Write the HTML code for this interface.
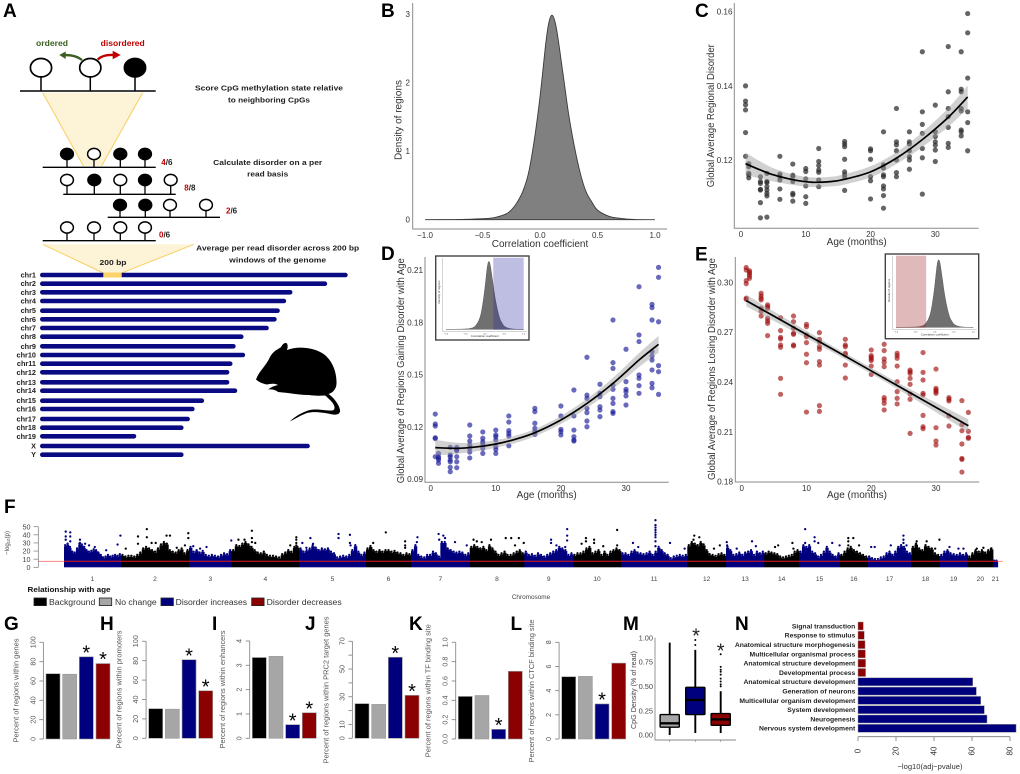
<!DOCTYPE html>
<html lang="en">
<head>
<meta charset="utf-8">
<title>Regional methylation disorder with age</title>
<style>
html,body{margin:0;padding:0;background:#fff;width:1020px;height:774px;overflow:hidden}
svg{display:block;font-family:"Liberation Sans",sans-serif;filter:blur(0.35px)}
.letter{font-size:19px;font-weight:700;fill:#000}
.a-note{font-size:7.6px;font-weight:700;fill:#222;text-anchor:middle}
</style>
</head>
<body>
<svg id="figure" xmlns="http://www.w3.org/2000/svg" width="1020" height="774" viewBox="0 0 1020 774">
  <rect x="0" y="0" width="1020" height="774" fill="#fff"/>
  <g id="panel-a">
    <polygon points="42.7,92.7 142.7,92.7 101.7,165.7 83.3,165.7" fill="#fdf3d6"/>
    <path d="M42.7 92.7L83.3 165.7M142.7 92.7L101.7 165.7" stroke="#f9cf63" stroke-width="1" fill="none"/>
    <polygon points="42.7,244.3 194,244.3 121.7,273 103.3,273" fill="#fdf3d6"/>
    <path d="M42.7 244.3L103.3 273M194 244.3L121.7 273" stroke="#f9cf63" stroke-width="1" fill="none"/>
    <text x="36" y="46" font-size="8" font-weight="700" fill="#3a5f1e" textLength="32" lengthAdjust="spacingAndGlyphs">ordered</text>
    <text x="100.7" y="46" font-size="8" font-weight="700" fill="#c00000" textLength="44" lengthAdjust="spacingAndGlyphs">disordered</text>
    <path d="M82 60Q76 55 65 55" stroke="#3a5f1e" stroke-width="2.4" fill="none"/>
    <polygon points="59.3,55 65.7,51.5 65.7,59" fill="#3a5f1e"/>
    <path d="M97.7 59.5Q103 54.5 113 55" stroke="#c00000" stroke-width="2.4" fill="none"/>
    <polygon points="120.7,55 112.7,50.7 112.7,59.3" fill="#c00000"/>
    <text class="a-note" x="269" y="90.7" textLength="148" lengthAdjust="spacingAndGlyphs">Score CpG methylation state relative</text>
    <text class="a-note" x="269" y="102.3" textLength="82" lengthAdjust="spacingAndGlyphs">to neighboring CpGs</text>
    <text class="a-note" x="267.7" y="165" textLength="109" lengthAdjust="spacingAndGlyphs">Calculate disorder on a per</text>
    <text class="a-note" x="267.7" y="176.7" textLength="41" lengthAdjust="spacingAndGlyphs">read basis</text>
    <text class="a-note" x="277.7" y="250.7" textLength="163" lengthAdjust="spacingAndGlyphs">Average per read disorder across 200 bp</text>
    <text class="a-note" x="277.7" y="262.3" textLength="97" lengthAdjust="spacingAndGlyphs">windows of the genome</text>
    <text class="a-note" x="113" y="265" textLength="27" lengthAdjust="spacingAndGlyphs">200 bp</text>
    <path d="M256 379.5C259 371 266 366 270 357C274 350 279 349 281 347C283 343 287 341 287.5 345C288 348 287 349 287 350C297 346 312 347 322 353C332 359 337 372 336.5 384C336 390 332 393 328.5 394C333 397 339 404 340 410C340.5 414 337 415 333 414.5C325 413 315 411 307 413C301 415 295 419 290 421.5C294 417 301 413 308 410.5C316 408 326 411 332 410.5C336 410 335 405 331 401C328 398 326 396 325 395.5C318 396 312 395.5 309 395C302 395 295 394 288 393L278 392C276 390 272 389 268 389.5C271 387 275 385.5 278 385C274 383 270 384 267 384.5C263 384 258 381.5 256 379.5Z" fill="#000"/>
  </g>
  <text class="letter" x="3" y="17">A</text>
  <text class="letter" x="381" y="17">B</text>
  <text class="letter" x="695" y="17">C</text>
  <text class="letter" x="381" y="260">D</text>
  <text class="letter" x="695" y="260.5">E</text>
  <text class="letter" x="4" y="513">F</text>
  <text class="letter" x="4" y="630">G</text>
  <text class="letter" x="100" y="630">H</text>
  <text class="letter" x="212" y="630">I</text>
  <text class="letter" x="305" y="630">J</text>
  <text class="letter" x="409" y="630">K</text>
  <text class="letter" x="510.5" y="630">L</text>
  <text class="letter" x="623" y="630">M</text>
  <text class="letter" x="735" y="630">N</text>
</svg>
<script>
/* ---------- Panel A data ---------- */
const chromNames = ['chr1','chr2','chr3','chr4','chr5','chr6','chr7','chr8','chr9','chr10','chr11','chr12','chr13','chr14','chr15','chr16','chr17','chr18','chr19','X','Y'];
const chromLengths = [195,182,160,156,152,150,145,129,124,130,122,120,120,125,104,98,95,91,61,171,91];
const readDisorderLabels = [['4','/6'],['8','/8'],['2','/6'],['0','/6']];
const readMethylated = [[1,0,1,1],[0,1,0,1,0],[1,1,0,0],[0,0,0,0]];

/* ---------- Panel B data (density) ---------- */
const densityX = [-1,-0.8,-0.65,-0.5,-0.4,-0.3,-0.25,-0.2,-0.15,-0.1,-0.05,0,0.05,0.075,0.1,0.125,0.15,0.2,0.25,0.3,0.35,0.4,0.45,0.5,0.6,0.7,0.8,1];
const densityY = [0,0.002,0.006,0.015,0.03,0.08,0.14,0.25,0.41,0.68,1.16,1.79,2.57,2.86,2.98,2.92,2.72,2.13,1.53,1.06,0.68,0.41,0.26,0.14,0.05,0.02,0.005,0];
const densityXTicks = [-1,-0.5,0,0.5,1];
const densityXTickLabels = ['\u22121.0','\u22120.5','0.0','0.5','1.0'];
const densityYTicks = [0,1,2,3];

/* ---------- Shared scatter data ---------- */
const ages = [0.7,1.2,3,4,6,8,10,12,16,20,22,24,26,28,30,32,34,35];
const ageTicks = [0,10,20,30];

/* ---------- Panel C data ---------- */
const cValues = [
 [.14,.1359,.1349,.1335,.1274,.121],
 [.119,.1182,.1164,.116,.1152],
 [.1155,.1142,.1137,.1121,.1119,.1085,.1044],
 [.1164,.1142,.1139,.1128,.1119,.111,.1103,.1046],
 [.121,.1162,.1155,.1146,.1122,.1094],
 [.1189,.1159,.1155,.1142,.111,.1106,.1089],
 [.1177,.1169,.1149,.113,.1101,.1083],
 [.1231,.1196,.1185,.1173,.1167,.1146,.1128],
 [.125,.1243,.1236,.1202,.1168,.116,.1153,.1118],
 [.123,.1225,.1202,.1155,.1144,.1095],
 [.1276,.1187,.1178,.116,.1155,.113,.1122,.1104,.107],
 [.1339,.1249,.1241,.1225,.12,.1166,.1155],
 [.1276,.1249,.1243,.1225,.1209,.12,.1175],
 [.1492,.133,.1296,.1272,.1231,.1206,.1108],
 [.1348,.1276,.1263,.1249,.124,.1227,.1196],
 [.1506,.1384,.1339,.1317,.1288,.1245,.1234],
 [.1492,.1391,.1384,.1339,.1332,.1281,.1276,.1265],
 [.1595,.1543,.1421,.133,.1301,.1225]];
const cFitAges = [0.7,3,5,8,11,14,16,20,24,28,32,35];
const cFitValues = [.119,.1173,.116,.1147,.114,.1142,.1148,.1168,.1205,.1255,.1315,.137];
const cFitBand = [.003,.0023,.0018,.0014,.0013,.0013,.0014,.0015,.0016,.002,.0025,.0031];
const cYTicks = [.12,.14,.16];
const cYTickLabels = ['0.12','0.14','0.16'];

/* ---------- Panel D data ---------- */
const dValues = [
 [.1273,.1216,.1204,.1137,.1132,.1028],
 [.1047,.1028,.1019,.1009,.099],
 [.1082,.1038,.1028,.1009,.0999,.0967,.0942],
 [.1082,.1067,.1063,.1028,.0999,.0965],
 [.121,.1147,.1118,.1095,.1076,.1055,.1021],
 [.117,.1134,.1114,.1101,.1076,.1047],
 [.1181,.1153,.1143,.1124,.1086,.107,.1047],
 [.1262,.1227,.1178,.1162,.1147,.1091],
 [.1306,.1287,.122,.1191,.1172,.1156],
 [.1319,.1262,.1185,.1172,.1153],
 [.1411,.1262,.1181,.1143,.1124,.1118],
 [.1599,.1382,.1363,.1306,.1281,.1233,.12],
 [.1444,.1392,.1373,.1315,.1296,.1258],
 [.1813,.1568,.1535,.144,.1415,.1363,.1334,.1287,.1277],
 [.1645,.1459,.1415,.1401,.1377,.1325],
 [.2004,.1727,.1689,.1497,.1478,.1436,.1392],
 [.1903,.1884,.1813,.1631,.1606,.1583,.1526,.1449,.1424],
 [.2115,.2058,.1803,.1551,.1516,.1386]];
const dFitAges = [0.7,4,7,10,13,16,20,24,28,32,35];
const dFitValues = [.108,.1076,.1084,.1101,.1128,.1166,.1239,.1334,.1449,.1583,.1673];
const dFitBand = [.0045,.0032,.0025,.0022,.0021,.0021,.0023,.0027,.0032,.004,.0048];
const dYTicks = [.09,.12,.15,.18,.21];
const dYTickLabels = ['0.09','0.12','0.15','0.18','0.21'];

/* ---------- Panel E data ---------- */
const eValues = [
 [.3089,.3074,.301,.2992,.2904,.2898],
 [.307,.306,.305,.3038,.3024],
 [.2934,.2918,.2904,.2894,.2844,.2824,.2797],
 [.2864,.2854,.2844,.2783,.2767,.2753,.2679],
 [.2787,.2709,.2669,.2659,.2623,.2609,.2422,.2326],
 [.2797,.2763,.2723,.2693,.2687,.2623,.2617],
 [.2747,.2733,.2683,.2673,.2637,.2567,.2516,.2219],
 [.2697,.2657,.2643,.2613,.2597,.2523,.2502,.2258,.2223],
 [.2657,.2623,.2613,.2573,.2563,.2502,.2424],
 [.2593,.2559,.2549,.2539,.2529,.2496,.2446],
 [.2627,.2589,.2539,.2519,.2492,.2306,.2292,.2272,.2232],
 [.2573,.2559,.2543,.2496,.2402,.2342,.2302,.2268],
 [.2472,.2462,.2452,.2422,.2386,.2328,.2296,.2091],
 [.2577,.2458,.2412,.2332,.2322,.2199,.2131,.2119],
 [.2478,.2362,.2352,.2342,.2332,.2125,.2045,.2021],
 [.2306,.2296,.2286,.2197,.2135],
 [.2288,.2143,.2107,.2027,.194,.1934,.1858],
 [.2217,.2103,.2067,.2061]];
const eFitAges = [0.7,10,18,26,35];
const eFitValues = [.289,.2686,.2511,.2335,.2137];
const eFitBand = [.0035,.0022,.0018,.0022,.0038];
const eYTicks = [.18,.21,.24,.27,.3];
const eYTickLabels = ['0.18','0.21','0.24','0.27','0.30'];

/* ---------- Panel F data ---------- */
const manhattanChromLabels = ['1','2','3','4','5','6','7','8','9','10','11','12','13','14','15','16','17','18','19','20','21'];
const manhattanChromLengths = [57,68,42.7,67.3,67,45,58.7,54.6,48.7,48,66.3,38.7,38.3,34.7,41,27.7,43.6,28.4,28,25.3,4.7];
const manhattanEnvelopes = [
 [26,28,24,18,17,22,28,27,24,20,18,19,21,20,17,14,11,12,14,12,13,14,13,15],
 [14,12,13,13,12,14,17,22,24,22,20,18,22,27,30,28,20,18,17,20,22,16,20],
 [24,18,20,17,19,14,13,14,13,12,14,16,15,20],
 [20,26,25,28,30,27,24,20,17,16,18,14,13,13,12,11,15,17,20,18,24,24],
 [22,18,20,22,26,23,20,22,21,22,18,16,11,12,13,12,14,20,26,18,14,17],
 [22,25,20,18,20,18,20,20,18,19,17,16,14,16,15],
 [20,26,14,12,11,14,14,18,16,12,30,30,22,20,18,17,18,17,14,16],
 [24,26,24,22,24,20,26,22,18,14,16,18,14,14,16,18,20,16],
 [18,14,15,13,16,14,12,14,16,18,20,24,22,20,14,16],
 [14,16,16,18,22,24,16,18,20,14,18,14,18,20,22,20],
 [16,16,14,18,20,17,16,15,16,18,14,18,24,20,16,14,10,12,13,14,13,14],
 [26,30,28,26,30,27,20,15,14,13,15,16,14],
 [24,20,14,15,17,14,17,18,20,14,18,16,18],
 [16,18,17,16,15,12,11,12,13,14,18,20],
 [18,26,24,26,18,16,12,14,18,24,18,14,12,16],
 [14,18,22,24,20,18,16,14,12],
 [12,10,9,9,11,12,16,18,14,18,24,26,24,18,16],
 [24,28,22,20,26,24,22,16,14],
 [14,18,20,16,15,14,16,14,16],
 [12,16,20,18,20,17,20,22],
 [7,7]];
const manhattanPeakChrom = [0,0,0,0,0,0,0,0,0,0,0,0,0,0,1,1,1,1,1,1,1,1,1,1,1,1,1,2,2,2,2,3,3,3,3,3,3,3,3,3,3,3,3,4,4,4,4,4,4,4,4,4,5,5,5,5,5,6,6,6,6,6,6,6,6,7,7,7,7,7,7,7,7,7,8,8,8,8,8,8,8,9,9,9,9,9,9,9,9,10,10,10,10,10,10,10,10,10,10,10,10,10,11,11,11,11,11,12,12,12,12,12,13,13,13,13,14,14,14,14,14,14,14,15,15,15,15,15,16,16,16,16,16,16,16,17,17,17,17,17,18,18,18,19,19,19];
const manhattanPeakPos = [.03,.03,.11,.11,.03,.11,.28,.28,.37,.44,.54,.74,.94,.99,.07,.25,.25,.38,.38,.67,.72,.51,.45,.99,.99,.82,.94,.10,.41,.26,.99,.10,.19,.30,.30,.30,.35,.96,.96,.96,.96,.96,.87,.05,.17,.11,.59,.59,.76,.76,.77,.21,.44,.16,.87,.87,.87,.11,.10,.47,.55,.58,.48,.75,.95,.07,.13,.22,.39,.66,.76,.90,.83,.99,.55,.55,.88,.88,.88,.66,.84,.92,.27,.27,.44,.44,.18,.63,.92,.52,.52,.52,.52,.52,.52,.52,.52,.52,.74,.18,.26,.96,.18,.31,.16,.84,.69,.02,.03,.68,.78,.28,.40,.81,.84,.31,.15,.38,.38,.47,.81,.99,.15,.30,.48,.30,.30,.69,.82,.82,.82,.89,.53,.08,.16,.99,.19,.54,.84,.16,.35,.67,.85,.92,.62,.36];
const manhattanPeakVal = [44,38,43,38,34,32,34,30,29,27,25,21,28,39,23,38,29,47,37,39,39,30,30,42,36,24,27,26,25,23,33,34,34,45,36,31,30,37,34,30,27,24,27,30,36,24,41,36,40,30,27,29,43,30,32,27,24,37,31,41,39,36,34,31,27,34,32,31,34,36,36,36,27,30,34,30,47,39,33,27,25,46,36,32,34,30,29,26,27,58,52,49,46,43,40,37,32,26,30,30,25,23,39,37,34,27,23,31,27,32,26,23,27,30,23,25,47,37,32,30,30,27,30,36,36,32,27,27,39,34,30,27,27,25,25,34,32,32,23,27,25,23,23,23,24,23];
const manhattanYTicks = [0,10,20,30,40,50];
const manhattanThreshold = [7.3];
const legendLabels = ['Background','No change','Disorder increases','Disorder decreases'];

/* ---------- Panels G-L data ---------- */
const barColours = ['#000000','#a6a6a6','#00007f','#8b0000'];
const gValues = [67.5,67,85,78];
const gStars = [0,0,1,1];
const gTicks = [0,20,40,60,80,100];
const hValues = [30.5,30,81,49];
const hStars = [0,0,1,1];
const hTicks = [0,20,40,60,80,100];
const iValues = [3.32,3.37,.56,1.05];
const iStars = [0,0,1,1];
const iTicks = [0,1,2,3,4];
const jValues = [25,24.5,58.5,31];
const jStars = [0,0,1,1];
const jTicks = [0,10,20,30,40,50,60,70];
const jTickLabels = ['0','10','','30','','50','','70'];
const kValues = [.44,.45,.1,.7];
const kStars = [0,0,1,0];
const kTicks = [0,.2,.4,.6,.8,1];
const kTickLabels = ['0.0','0.2','0.4','0.6','0.8','1.0'];
const lValues = [5.15,5.18,2.9,6.28];
const lStars = [0,0,1,0];
const lTicks = [0,2,4,6,8];

/* ---------- Panel M data ---------- */
const boxFill = ['#a6a6a6','#00007f','#8b0000'];
const boxQ1 = [.08,.21,.1];
const boxMedian = [.12,.36,.16];
const boxQ3 = [.21,.49,.22];
const boxWhiskerLow = [0,.02,.02];
const boxWhiskerHigh = [.95,.875,.45];
const boxOutliers = [[],[.925,.976],[.5,.52,.55,.58,.62,.65,.67,.7,.83]];
const boxYTicks = [0,.25,.5,.75,1];
const boxYTickLabels = ['0.00','0.25','0.50','0.75','1.00'];

/* ---------- Panel N data ---------- */
const goTerms = ['Signal transduction','Response to stimulus','Anatomical structure morphogenesis','Multicellular organismal process','Anatomical structure development','Developmental process','Anatomical structure development','Generation of neurons','Multicellular organism development','System development','Neurogenesis','Nervous system development'];
const goValues = [2.8,3.3,3.7,3.9,4,4,60.4,62.3,64.6,66.5,67.9,83.2];
const goDirections = ['down','down','down','down','down','down','up','up','up','up','up','up'];
const goTicks = [0,20,40,60,80];

/* ---------- Helpers ---------- */
const NS = 'http://www.w3.org/2000/svg';
const root = document.getElementById('figure');
const INK = '#333333';
const AXIS = '#8a8a8a';

function make(parent, tagName, attrs, text) {
  const node = document.createElementNS(NS, tagName);
  for (const key in attrs) node.setAttribute(key, attrs[key]);
  if (text !== undefined) node.textContent = text;
  parent.appendChild(node);
  return node;
}
function tag(node, name, interactable) {
  
  
  return node;
}
function group(parent, name) {
  return tag(make(parent, 'g', {}), name);
}
function linear(d0, d1, r0, r1) {
  return v => r0 + (v - d0) * (r1 - r0) / (d1 - d0);
}
function line(parent, x1, y1, x2, y2, stroke, width, name) {
  return tag(make(parent, 'line', {x1, y1, x2, y2, stroke, 'stroke-width': width}), name);
}
function label(parent, x, y, str, style, name) {
  return tag(make(parent, 'text', Object.assign({x, y}, style), str), name);
}
function rotatedLabel(parent, x, y, str, style, name) {
  const attrs = Object.assign({transform: 'rotate(-90 ' + x + ' ' + y + ')', 'text-anchor': 'middle'}, style);
  return label(parent, x, y, str, attrs, name);
}
/* Catmull-Rom curve through the given screen points, without the initial move */
function curve(pts) {
  let d = '';
  for (let i = 0; i < pts.length - 1; i++) {
    const p0 = pts[Math.max(0, i - 1)], p1 = pts[i], p2 = pts[i + 1], p3 = pts[Math.min(pts.length - 1, i + 2)];
    const c1x = p1[0] + (p2[0] - p0[0]) / 6, c1y = p1[1] + (p2[1] - p0[1]) / 6;
    const c2x = p2[0] - (p3[0] - p1[0]) / 6, c2y = p2[1] - (p3[1] - p1[1]) / 6;
    d += 'C' + c1x.toFixed(2) + ' ' + c1y.toFixed(2) + ' ' + c2x.toFixed(2) + ' ' + c2y.toFixed(2) + ' ' + p2[0].toFixed(2) + ' ' + p2[1].toFixed(2);
  }
  return d;
}

/* ---------- Panel A ---------- */
function drawReads() {
  const g = group(document.getElementById('panel-a'), 'bisulfite-reads');
  const top = group(g, 'reference-read');
  line(top, 20, 91, 155.7, 91, '#000', 1.6, 'read-line');
  [[41, 0], [90.3, 0], [135, 1]].forEach(function (p, i) {
    line(top, p[0], 72, p[0], 91, '#000', 1.5, 'cpg-stem');
    tag(make(top, 'ellipse', {cx: p[0], cy: 67.7, rx: 10.6, ry: 9.2, fill: p[1] ? '#000' : '#fff', stroke: '#000', 'stroke-width': 1.7}), 'cpg-site-' + i);
  });
  const rows = [
    {y: 167.3, x0: 42.7, x1: 155.7, cy: 154, xs: [67, 94, 120.3, 145], lx: 161.3, ly: 165},
    {y: 194.3, x0: 63.3, x1: 175.7, cy: 180, xs: [67, 94.3, 120.3, 145, 170.7], lx: 184.3, ly: 190.7},
    {y: 217.3, x0: 107.7, x1: 220, cy: 205, xs: [120, 145.3, 170, 206], lx: 226, ly: 213.3},
    {y: 240.7, x0: 42.7, x1: 155.7, cy: 227.5, xs: [67, 94, 120.3, 145], lx: 159, ly: 237.3}
  ];
  rows.forEach(function (row, r) {
    const rg = group(g, 'read-' + (r + 1));
    line(rg, row.x0, row.y, row.x1, row.y, '#000', 1.4, 'read-line');
    row.xs.forEach(function (x, i) {
      line(rg, x, row.cy, x, row.y, '#000', 1.3, 'cpg-stem');
      tag(make(rg, 'ellipse', {cx: x, cy: row.cy, rx: 6.4, ry: 5.6, fill: readMethylated[r][i] ? '#000' : '#fff', stroke: '#000', 'stroke-width': 1.5}), 'cpg-site');
    });
    const t = tag(make(rg, 'text', {x: row.lx, y: row.ly, 'font-size': 8, 'font-weight': 700, fill: '#222'}), 'read-disorder-score');
    const a = make(t, 'tspan', {fill: '#c00000'}, readDisorderLabels[r][0]);
    tag(a, 'disordered-count');
    const b = make(t, 'tspan', {}, readDisorderLabels[r][1]);
    tag(b, 'total-count');
  });
}
function drawChromosomes() {
  const g = group(document.getElementById('panel-a'), 'chromosome-ideogram');
  const rowY = [275,283.7,292.3,301,310.7,319.3,328,336.7,346.3,355,363.7,372.3,382.3,390.7,400.7,409,419,427.7,436.3,446,454.7];
  const xScale = linear(0, 195, 40, 347.7);
  chromNames.forEach(function (name, i) {
    const bar = make(g, 'rect', {x: xScale(0), y: rowY[i] - 2.3, width: xScale(chromLengths[i]) - xScale(0), height: 4.6, rx: 2.3, fill: '#0a0a82'});
    tag(bar, 'chromosome-bar-' + name);
    label(g, 36, rowY[i] + 2.5, name, {'font-size': 7.3, 'font-weight': 700, fill: '#222', 'text-anchor': 'end'}, 'chromosome-label-' + name);
  });
  tag(make(g, 'rect', {x: 103.3, y: 272.5, width: 18.4, height: 5, fill: '#fdd267'}), 'window-highlight');
  g.parentNode.insertBefore(g, g.parentNode.children[g.parentNode.children.length - 2]);
}

/* ---------- Panels B to E ---------- */
function densityPath(bx, by) {
  const pts = densityX.map(function (x, i) { return [bx(x), by(densityY[i])]; });
  return 'M' + pts[0][0].toFixed(2) + ' ' + pts[0][1].toFixed(2) + curve(pts);
}
function drawPanelB() {
  const g = group(root, 'panel-b-density');
  const x = linear(-1, 1, 425, 655);
  const y = linear(0, 3, 219.7, 14);
  tag(make(g, 'path', {d: densityPath(x, y) + 'Z', fill: '#808080', stroke: '#3a3a3a', 'stroke-width': 0.9}), 'density-area');
  tag(make(g, 'path', {d: 'M412.7 3V229H667', fill: 'none', stroke: AXIS, 'stroke-width': 1}), 'density-axes');
  densityXTicks.forEach(function (v, i) {
    label(g, x(v), 238, densityXTickLabels[i], {'font-size': 8, fill: INK, 'text-anchor': 'middle'}, 'x-tick-label');
  });
  densityYTicks.forEach(function (v) {
    label(g, 410, y(v) + 3, String(v), {'font-size': 8, fill: INK, 'text-anchor': 'end'}, 'y-tick-label');
  });
  label(g, 540, 247, 'Correlation coefficient', {'font-size': 10, fill: INK, 'text-anchor': 'middle'}, 'x-axis-title');
  rotatedLabel(g, 401.5, 120, 'Density of regions', {'font-size': 10, fill: INK}, 'y-axis-title');
}
function drawInset(parent, box, shadeFrom, shadeTo, shade, layout) {
  const g = group(parent, 'density-inset');
  tag(make(g, 'rect', {x: box[0], y: box[1], width: box[2] - box[0], height: box[3] - box[1], fill: '#fff', stroke: '#444', 'stroke-width': 1.4}), 'inset-frame');
  const x = linear(-1, 1, layout.x0, layout.x1);
  const y = linear(0, 3, layout.base, layout.top);
  tag(make(g, 'path', {d: densityPath(x, y) + 'Z', fill: '#707070', stroke: '#444', 'stroke-width': 0.4}), 'inset-density-area');
  tag(make(g, 'rect', {x: x(shadeFrom), y: box[1] + 1.7, width: x(shadeTo) - x(shadeFrom), height: layout.base - box[1] - 1.2, fill: shade}), 'inset-shaded-region');
  tag(make(g, 'path', {d: 'M' + (layout.x0 - 3.5) + ' ' + (box[1] + 2) + 'V' + (layout.base + 2) + 'H' + (box[2] - 2), fill: 'none', stroke: '#aaa', 'stroke-width': 0.5}), 'inset-axes');
  label(g, (layout.x0 + layout.x1) / 2, box[3] - 3.2, 'Correlation coefficient', {'font-size': 2.9, fill: '#333', 'text-anchor': 'middle'}, 'inset-x-title');
  rotatedLabel(g, layout.x0 - 6, (box[1] + box[3]) / 2 - 6, 'Density of regions', {'font-size': 2.9, fill: '#333'}, 'inset-y-title');
  densityXTicks.forEach(function (v, i) {
    label(g, x(v), layout.base + 5, densityXTickLabels[i], {'font-size': 2.2, fill: '#333', 'text-anchor': 'middle'}, 'inset-x-tick');
  });
}
function drawScatter(cfg) {
  const g = group(root, cfg.name);
  const x = linear(0, 30, cfg.x0, cfg.x30);
  const y = linear(cfg.v0, cfg.v1, cfg.y0, cfg.y1);
  const pts = group(g, 'data-points');
  cfg.values.forEach(function (list, a) {
    list.forEach(function (v) {
      const c = make(pts, 'circle', {cx: x(ages[a]).toFixed(2), cy: y(v).toFixed(2), r: 2.6, fill: cfg.colour, 'fill-opacity': cfg.opacity});
      tag(c, 'age-point');
    });
  });
  const upper = cfg.fitAges.map(function (a, i) { return [x(a), y(cfg.fitValues[i] + cfg.band[i])]; });
  const lower = cfg.fitAges.map(function (a, i) { return [x(a), y(cfg.fitValues[i] - cfg.band[i])]; }).reverse();
  const ribbon = 'M' + upper[0][0].toFixed(2) + ' ' + upper[0][1].toFixed(2) + curve(upper) + 'L' + lower[0][0].toFixed(2) + ' ' + lower[0][1].toFixed(2) + curve(lower) + 'Z';
  tag(make(g, 'path', {d: ribbon, fill: '#9a9a9a', 'fill-opacity': 0.45}), 'confidence-ribbon');
  const centre = cfg.fitAges.map(function (a, i) { return [x(a), y(cfg.fitValues[i])]; });
  const fit = 'M' + centre[0][0].toFixed(2) + ' ' + centre[0][1].toFixed(2) + curve(centre);
  tag(make(g, 'path', {d: fit, fill: 'none', stroke: '#000', 'stroke-width': 1.7, 'stroke-linejoin': 'round'}), 'fit-curve');
  tag(make(g, 'path', {d: 'M' + cfg.axisX + ' ' + cfg.axisTop + 'V' + cfg.axisBottom + 'H' + cfg.axisRight, fill: 'none', stroke: AXIS, 'stroke-width': 1}), 'axes');
  ageTicks.forEach(function (v) {
    label(g, x(v), cfg.xTickY, String(v), {'font-size': 8, fill: INK, 'text-anchor': 'middle'}, 'x-tick-label');
  });
  cfg.yTicks.forEach(function (v, i) {
    label(g, cfg.tickRight, y(v) + 3, cfg.yLabels[i], {'font-size': 8.2, fill: INK, 'text-anchor': 'end'}, 'y-tick-label');
  });
  label(g, cfg.xTitleX, cfg.xTitleY, 'Age (months)', {'font-size': 10, fill: INK, 'text-anchor': 'middle'}, 'x-axis-title');
  rotatedLabel(g, cfg.yTitleX, cfg.yTitleY, cfg.yTitle, {'font-size': cfg.yTitleSize, fill: INK, textLength: cfg.yTitleLen, lengthAdjust: 'spacingAndGlyphs'}, 'y-axis-title');
  return g;
}

/* ---------- Panel F ---------- */
function drawManhattan() {
  const g = group(root, 'panel-f-manhattan');
  const gx = linear(0, 933.7, 64, 997.7);
  const y = linear(0, 50, 567.3, 526.7);
  let start = 0;
  const starts = [];
  const plot = group(g, 'manhattan-plot');
  manhattanChromLengths.forEach(function (len, c) {
    starts.push(start);
    const colour = c % 2 === 0 ? '#00007f' : '#000000';
    const chrom = group(plot, 'chromosome-' + manhattanChromLabels[c]);
    const env = manhattanEnvelopes[c];
    const step = len / env.length;
    env.forEach(function (h, i) {
      const bx = gx(start + i * step);
      const rect = make(chrom, 'rect', {x: bx.toFixed(2), y: y(h).toFixed(2), width: (step + 0.4).toFixed(2), height: (y(0) - y(h)).toFixed(2), fill: colour});
      tag(rect, 'significance-envelope');
      const dot = make(chrom, 'circle', {cx: (bx + step / 2).toFixed(2), cy: y(h + 1.2).toFixed(2), r: 1.15, fill: colour});
      tag(dot, 'region-point');
    });
    label(g, gx(start + len / 2), 581, manhattanChromLabels[c], {'font-size': 6.6, fill: '#444', 'text-anchor': 'middle'}, 'chromosome-tick-label');
    start += len;
  });
  manhattanPeakChrom.forEach(function (c, i) {
    const px = gx(starts[c] + manhattanPeakPos[i] * manhattanChromLengths[c]);
    const dot = make(plot, 'circle', {cx: px.toFixed(2), cy: y(manhattanPeakVal[i]).toFixed(2), r: 1.15, fill: c % 2 === 0 ? '#00007f' : '#000000'});
    tag(dot, 'peak-point');
  });
  const ty = y(manhattanThreshold[0]);
  line(g, 38, ty, 1002.7, ty, '#ff8a8a', 1, 'significance-threshold-outer');
  line(g, 64, ty, 997.7, ty, '#b80010', 1.1, 'significance-threshold');
  line(g, 38.3, y(0), 38.3, y(50), '#777', 0.7, 'y-axis-line');
  manhattanYTicks.forEach(function (v) {
    line(g, 33.5, y(v), 38.3, y(v), '#777', 0.7, 'y-tick');
    label(g, 30.5, y(v) + 2.6, String(v), {'font-size': 7.2, fill: '#444', 'text-anchor': 'end'}, 'y-tick-label');
  });
  const yt = rotatedLabel(g, 9, 543, '\u2212log', {'font-size': 6.2, fill: '#444'}, 'y-axis-title');
  const sub = make(yt, 'tspan', {'font-size': 4.2, dy: 1.2}, '10');
  tag(sub, 'y-axis-title-subscript');
  const tail = make(yt, 'tspan', {dy: -1.2}, '(p)');
  tag(tail, 'y-axis-title-tail');
  label(g, 531, 599, 'Chromosome', {'font-size': 6.4, fill: '#444', 'text-anchor': 'middle'}, 'x-axis-title');
  const legend = group(g, 'legend');
  label(legend, 27.5, 592, 'Relationship with age', {'font-size': 7.6, 'font-weight': 700, fill: '#111', textLength: 83, lengthAdjust: 'spacingAndGlyphs'}, 'legend-title');
  const swatchX = [34, 99.3, 161, 251.7];
  const textX = [49, 115, 175.7, 266.7];
  const textW = [46.3, 41.7, 71.3, 75];
  legendLabels.forEach(function (txt, i) {
    const e = group(legend, 'legend-entry');
    tag(make(e, 'rect', {x: swatchX[i], y: 598, width: 12.4, height: 7.6, fill: barColours[i], stroke: '#222', 'stroke-width': 0.8}), 'legend-swatch');
    label(e, textX[i], 605, txt, {'font-size': 8, fill: '#333', textLength: textW[i], lengthAdjust: 'spacingAndGlyphs'}, 'legend-label');
  });
}

/* ---------- Panels G to L ---------- */
function drawBars(cfg) {
  const g = group(root, cfg.name);
  const y = linear(cfg.tickValues[0], cfg.tickValues[cfg.tickValues.length - 1], cfg.y0, cfg.y1);
  cfg.values.forEach(function (v, i) {
    const bx = cfg.x0 + i * 16.667;
    const r = make(g, 'rect', {x: bx, y: y(v).toFixed(2), width: 14, height: (cfg.y0 - y(v)).toFixed(2), fill: barColours[i], stroke: '#9a9a9a', 'stroke-width': 0.6});
    tag(r, 'bar-' + legendLabels[i].toLowerCase().replace(/ /g, '-'));
    if (cfg.stars[i]) {
      label(g, bx + 7, y(v) + 2.6, '*', {'font-size': 20, fill: '#000', 'text-anchor': 'middle'}, 'significance-star');
    }
  });
  const ax = cfg.x0 - 2.6;
  line(g, ax, y(cfg.tickValues[0]), ax, y(cfg.tickValues[cfg.tickValues.length - 1]), AXIS, 0.9, 'y-axis-line');
  cfg.tickValues.forEach(function (v, i) {
    line(g, ax - 4, y(v), ax, y(v), AXIS, 0.9, 'y-tick');
    const str = cfg.tickLabels ? cfg.tickLabels[i] : String(v);
    if (str) rotatedLabel(g, ax - 8, y(v), str, {'font-size': 7.2, fill: '#555'}, 'y-tick-label');
  });
  rotatedLabel(g, cfg.titleX, cfg.titleY, cfg.title, {'font-size': 7.2, fill: '#555', textLength: cfg.titleLen, lengthAdjust: 'spacingAndGlyphs'}, 'y-axis-title');
}

/* ---------- Panel M ---------- */
function drawBoxes() {
  const g = group(root, 'panel-m-boxplot');
  const y = linear(0, 1, 735, 637.7);
  const cx = [669.7, 695.3, 720.7];
  boxFill.forEach(function (fill, i) {
    const b = group(g, 'cpg-density-box-' + (i + 1));
    line(b, cx[i], y(boxWhiskerLow[i]), cx[i], y(boxWhiskerHigh[i]), '#000', 1.9, 'whisker');
    tag(make(b, 'rect', {x: cx[i] - 9.6, y: y(boxQ3[i]), width: 19.2, height: y(boxQ1[i]) - y(boxQ3[i]), fill, stroke: '#000', 'stroke-width': 1.4, rx: 0.8}), 'interquartile-box');
    line(b, cx[i] - 9.6, y(boxMedian[i]), cx[i] + 9.6, y(boxMedian[i]), '#000', 2.4, 'median-line');
    boxOutliers[i].forEach(function (v) {
      tag(make(b, 'circle', {cx: cx[i], cy: y(v), r: 1, fill: '#000'}), 'outlier-point');
    });
  });
  label(g, 696, 642.6, '*', {'font-size': 20, fill: '#222', 'text-anchor': 'middle'}, 'significance-star');
  label(g, 720.7, 657.6, '*', {'font-size': 20, fill: '#222', 'text-anchor': 'middle'}, 'significance-star');
  tag(make(g, 'path', {d: 'M655 637.7V740H736', fill: 'none', stroke: AXIS, 'stroke-width': 0.9}), 'axes');
  boxYTicks.forEach(function (v, i) {
    label(g, 653, y(v) + 2.7, boxYTickLabels[i], {'font-size': 7.4, fill: '#444', 'text-anchor': 'end'}, 'y-tick-label');
  });
  cx.forEach(function (x) {
    line(g, x, 740, x, 742, AXIS, 0.7, 'x-tick');
  });
  rotatedLabel(g, 636, 690, 'CpG Density (% of read)', {'font-size': 7.4, fill: '#444', textLength: 78, lengthAdjust: 'spacingAndGlyphs'}, 'y-axis-title');
}

/* ---------- Panel N ---------- */
function drawEnrichment() {
  const g = group(root, 'panel-n-go-enrichment');
  const x = linear(0, 80, 858, 1010);
  goTerms.forEach(function (term, i) {
    const cy = 626 + i * 9.3;
    const r = make(g, 'rect', {x: x(0), y: cy - 4, width: x(goValues[i]) - x(0), height: 8, fill: goDirections[i] === 'down' ? '#8b0000' : '#00007f', stroke: '#9a9a9a', 'stroke-width': 0.5});
    tag(r, 'go-bar');
    label(g, 855.3, cy + 2.4, term, {'font-size': 6.8, 'font-weight': 700, fill: '#222', 'text-anchor': 'end'}, 'go-term-label');
  });
  line(g, x(0), 736.7, x(80), 736.7, '#777', 0.8, 'x-axis-line');
  goTicks.forEach(function (v) {
    line(g, x(v), 736.7, x(v), 741, '#777', 0.8, 'x-tick');
    rotatedLabel(g, x(v) + 2.5, 751, String(v), {'font-size': 8, fill: '#333'}, 'x-tick-label');
  });
  label(g, 930, 769, '\u2212log10(adj\u2212pvalue)', {'font-size': 7.6, fill: '#333', 'text-anchor': 'middle'}, 'x-axis-title');
}

/* ---------- Render ---------- */
drawReads();
drawChromosomes();
drawPanelB();
drawScatter({name: 'panel-c-scatter', x0: 741, x30: 935.3, v0: .12, v1: .16, y0: 160, y1: 11.7, values: cValues, colour: '#2a2a2a', opacity: 0.72,
  fitAges: cFitAges, fitValues: cFitValues, band: cFitBand, yTicks: cYTicks, yLabels: cYTickLabels,
  axisX: 734.3, axisTop: 3, axisBottom: 228.3, axisRight: 978.7, xTickY: 237, tickRight: 732.5,
  xTitleX: 856.7, xTitleY: 245, yTitleX: 714, yTitleY: 115.7, yTitle: 'Global Average Regional Disorder', yTitleSize: 9.8, yTitleLen: 143});
const panelD = drawScatter({name: 'panel-d-scatter', x0: 430.7, x30: 626, v0: .09, v1: .21, y0: 479, y1: 270, values: dValues, colour: '#1a1a9a', opacity: 0.65,
  fitAges: dFitAges, fitValues: dFitValues, band: dFitBand, yTicks: dYTicks, yLabels: dYTickLabels,
  axisX: 425, axisTop: 257, axisBottom: 482.3, axisRight: 668.7, xTickY: 491, tickRight: 423,
  xTitleX: 546.7, xTitleY: 498, yTitleX: 404, yTitleY: 370.7, yTitle: 'Global Average of Regions Gaining Disorder with Age', yTitleSize: 10, yTitleLen: 225});
drawInset(panelD, [435.7, 256, 529, 340], 0.217, 1, 'rgba(40,40,160,0.3)', {x0: 446, x1: 523.7, base: 329.3, top: 261});
const panelE = drawScatter({name: 'panel-e-scatter', x0: 741.7, x30: 936, v0: .18, v1: .3, y0: 481.7, y1: 282.3, values: eValues, colour: '#a01010', opacity: 0.65,
  fitAges: eFitAges, fitValues: eFitValues, band: eFitBand, yTicks: eYTicks, yLabels: eYTickLabels,
  axisX: 735.3, axisTop: 257, axisBottom: 482, axisRight: 979.3, xTickY: 491, tickRight: 733,
  xTitleX: 857, xTitleY: 498, yTitleX: 715, yTitleY: 369, yTitle: 'Global Average of Regions Losing Disorder with Age', yTitleSize: 10, yTitleLen: 222});
drawInset(panelE, [885.3, 254, 978.7, 338.7], -1, -0.22, 'rgba(160,40,40,0.32)', {x0: 896, x1: 973.3, base: 327.3, top: 259.3});
drawManhattan();
drawBars({name: 'panel-g-genes', x0: 46, y0: 739, y1: 642.3, values: gValues, stars: gStars, tickValues: gTicks, title: 'Percent of regions within genes', titleX: 18.5, titleY: 690.5, titleLen: 104});
drawBars({name: 'panel-h-promoters', x0: 148.7, y0: 738.3, y1: 641.3, values: hValues, stars: hStars, tickValues: hTicks, title: 'Percent of regions within promoters', titleX: 121.5, titleY: 689.5, titleLen: 118});
drawBars({name: 'panel-i-enhancers', x0: 252.3, y0: 738.3, y1: 641, values: iValues, stars: iStars, tickValues: iTicks, title: 'Percent of regions within enhancers', titleX: 225, titleY: 689.5, titleLen: 118});
drawBars({name: 'panel-j-prc2', x0: 355, y0: 738.3, y1: 641.3, values: jValues, stars: jStars, tickValues: jTicks, tickLabels: jTickLabels, title: 'Percent of regions within PRC2 target genes', titleX: 328.5, titleY: 690, titleLen: 147});
drawBars({name: 'panel-k-tf-binding', x0: 458.3, y0: 739, y1: 642.3, values: kValues, stars: kStars, tickValues: kTicks, tickLabels: kTickLabels, title: 'Percent of regions within TF binding site', titleX: 430.5, titleY: 690.7, titleLen: 133});
drawBars({name: 'panel-l-ctcf-binding', x0: 561.7, y0: 739, y1: 642.3, values: lValues, stars: lStars, tickValues: lTicks, title: 'Percent of regions within CTCF binding site', titleX: 534, titleY: 691, titleLen: 143});
drawBoxes();
drawEnrichment();
</script>
</body>
</html>
